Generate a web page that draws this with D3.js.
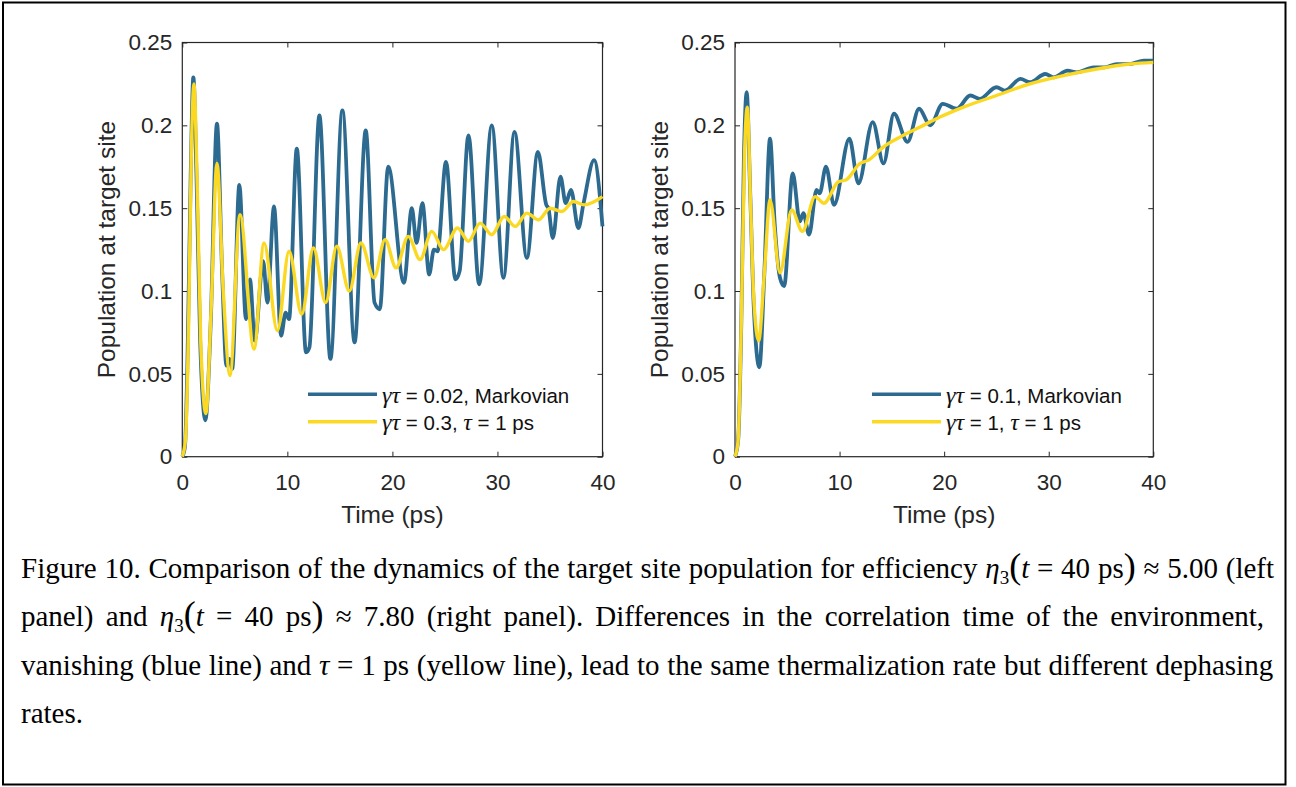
<!DOCTYPE html>
<meta charset="utf-8">
<script src="https://d3js.org/d3.v7.min.js"></script>
<style>
  body { margin: 0; background: #fff; }
</style>
<div id="chart"></div>
<script>

// ---- values ----
var timeTicks = [0, 10, 20, 30, 40];
var popTicks = [0, 0.05, 0.1, 0.15, 0.2, 0.25];

// left panel, blue: gamma*tau = 0.02, Markovian
var leftMarkov = [[0,0],[0.25,0.006],[0.5,0.06],[0.8,0.17],[1.05,0.229],[1.35,0.17],[1.7,0.07],[2.2,0.022],
  [2.7,0.08],[3.3,0.201],[3.8,0.11],[4.2,0.055],[4.5,0.059],[4.75,0.053],[5.43,0.164],[6.06,0.083],
  [6.44,0.107],[6.9,0.070],[7.7,0.118],[8.1,0.093],[8.73,0.151],[9.4,0.073],[9.84,0.087],[10.16,0.083],
  [10.9,0.186],[11.78,0.063],[12.1,0.066],[13.05,0.206],[14.1,0.059],[15.24,0.209],[16.4,0.069],
  [17.46,0.197],[18.3,0.093],[18.8,0.089],[19.6,0.175],[21.1,0.105],[21.85,0.150],[22.3,0.129],
  [22.86,0.153],[23.5,0.110],[23.95,0.125],[24.3,0.124],[25.1,0.178],[26.0,0.107],[26.4,0.112],
  [27.24,0.194],[28.26,0.104],[29.46,0.200],[30.57,0.108],[31.62,0.196],[32.8,0.120],[33.85,0.184],
  [34.65,0.152],[34.85,0.150],[35.27,0.132],[36.0,0.169],[36.5,0.153],[37.0,0.161],[37.7,0.138],
  [38.2,0.153],[39.2,0.179],[40,0.139]];

// left panel, yellow: gamma*tau = 0.3, tau = 1 ps
var leftCorrelated = [[0,0],[0.3,0.01],[0.6,0.08],[0.85,0.18],[1.11,0.225],[1.4,0.17],[1.75,0.07],
  [2.25,0.026],[2.75,0.09],[3.3,0.177],[3.9,0.10],[4.54,0.049],[5.49,0.146],[6.83,0.065],[7.78,0.129],
  [9.05,0.076],[10.16,0.124],[11.37,0.086],[12.48,0.126],[13.65,0.093],[14.7,0.127],[15.9,0.100],
  [17.0,0.129],[18.25,0.108],[19.3,0.131],[20.35,0.114],[21.5,0.133],[22.64,0.119],[23.75,0.136],
  [24.86,0.125],[26.2,0.138],[27.24,0.130],[28.35,0.141],[29.46,0.134],[30.64,0.145],[31.7,0.139],
  [32.8,0.147],[33.9,0.143],[35.02,0.150],[36.13,0.148],[37.24,0.154],[38.26,0.152],[40,0.157]];

// right panel, blue: gamma*tau = 0.1, Markovian
var rightMarkov = [[0,0],[0.3,0.01],[0.6,0.08],[0.85,0.18],[1.12,0.220],[1.45,0.16],[1.8,0.09],
  [2.33,0.054],[2.8,0.11],[3.35,0.192],[3.8,0.14],[4.3,0.108],[4.7,0.103],[5.52,0.171],[6.2,0.142],
  [6.54,0.147],[7.08,0.134],[7.8,0.161],[8.1,0.159],[8.7,0.175],[9.47,0.152],[10.94,0.192],
  [11.8,0.165],[13.17,0.202],[14.2,0.177],[15.2,0.207],[16.5,0.190],[17.6,0.210],[18.66,0.200],
  [19.87,0.213],[21.2,0.210],[22.5,0.218],[23.4,0.216],[25.0,0.223],[25.8,0.221],[27.3,0.228],
  [28.2,0.226],[29.67,0.231],[30.46,0.229],[31.8,0.233],[32.7,0.232],[34.3,0.235],[35.3,0.235],
  [36.5,0.237],[37.7,0.237],[39.1,0.239],[40,0.239]];

// right panel, yellow: gamma*tau = 1, tau = 1 ps
var rightCorrelated = [[0,0],[0.3,0.01],[0.6,0.08],[0.9,0.18],[1.18,0.211],[1.5,0.15],[1.8,0.095],
  [2.26,0.070],[2.8,0.11],[3.35,0.155],[4.3,0.111],[5.42,0.149],[6.44,0.136],[7.66,0.157],[8.5,0.153],
  [9.9,0.166],[10.6,0.167],[11.96,0.177],[12.76,0.179],[14.2,0.187],[15.8,0.193],[17.7,0.199],
  [19.6,0.205],[21.85,0.211],[25.0,0.218],[28.2,0.225],[31.4,0.230],[34.6,0.234],[37.8,0.237],[40,0.238]];

// legend entries: [text, italic greek?]
var leftLegend = [
  [["γτ", 1], [" = 0.02, Markovian", 0]],
  [["γτ", 1], [" = 0.3, ", 0], ["τ", 1], [" = 1 ps", 0]]
];
var rightLegend = [
  [["γτ", 1], [" = 0.1, Markovian", 0]],
  [["γτ", 1], [" = 1, ", 0], ["τ", 1], [" = 1 ps", 0]]
];

// caption, one array per printed line: [style, text]
var captionLines = [
  [["r", "Figure 10. Comparison of the dynamics of the target site population for efficiency "], ["i", "η"], ["sub", "3"],
   ["big", "("], ["i", "t"], ["r", " = 40 ps"], ["big", ")"], ["r", " ≈ 5.00 (left"]],
  [["r", "panel) and  "], ["i", "η"], ["sub", "3"], ["big", "("], ["i", "t"], ["r", " = 40 ps"], ["big", ")"],
   ["r", " ≈ 7.80  (right panel). Differences in the correlation time of the environment,"]],
  [["r", "vanishing (blue line) and  "], ["i", "τ"], ["r", " = 1 ps  (yellow line), lead to the same thermalization rate but different dephasing"]],
  [["r", "rates."]]
];

var blue = "#2d6a90", yellow = "#fbd923", ink = "#262626";

var W = 1296, H = 787;
var svg = d3.select("#chart").append("svg")
  .attr("width", W).attr("height", H)
  .style("font-family", "'Liberation Sans', Arial, sans-serif");

// outer frame
svg.append("rect")
  .attr("x", 3).attr("y", 2.5).attr("width", 1282.5).attr("height", 782)
  .attr("fill", "none").attr("stroke", "#000").attr("stroke-width", 2);

var yTop = 42.5, yBottom = 456.7;
var panels = [
  {x0: 182.3, x1: 602.5, blue: leftMarkov, yellow: leftCorrelated, legend: leftLegend, lx: 308},
  {x0: 735, x1: 1153.3, blue: rightMarkov, yellow: rightCorrelated, legend: rightLegend, lx: 872}
];

panels.forEach(function(p) {
  var x = d3.scaleLinear().domain([0, 40]).range([p.x0, p.x1]);
  var y = d3.scaleLinear().domain([0, 0.25]).range([yBottom, yTop]);
  var g = svg.append("g");

  // axes, ticks pointing inward on all four sides
  g.append("g").attr("transform", "translate(0," + yBottom + ")")
    .call(d3.axisBottom(x).tickValues(timeTicks).tickSizeInner(-5).tickSizeOuter(0).tickPadding(17.5).tickFormat(function(d) { return d; }));
  g.append("g").attr("transform", "translate(" + p.x0 + ",0)")
    .call(d3.axisLeft(y).tickValues(popTicks).tickSizeInner(-5).tickSizeOuter(0).tickPadding(10).tickFormat(function(d) { return d; }));
  g.append("g").attr("transform", "translate(0," + yTop + ")")
    .call(d3.axisTop(x).tickValues(timeTicks).tickSizeInner(-5).tickSizeOuter(0).tickFormat(""));
  g.append("g").attr("transform", "translate(" + p.x1 + ",0)")
    .call(d3.axisRight(y).tickValues(popTicks).tickSizeInner(-5).tickSizeOuter(0).tickFormat(""));
  g.selectAll(".domain").remove();
  g.selectAll(".tick line").attr("stroke", ink);
  g.selectAll(".tick text").attr("fill", ink).style("font-size", "22.5px").style("font-family", "'Liberation Sans', Arial, sans-serif");

  g.append("rect")
    .attr("x", p.x0).attr("y", yTop).attr("width", p.x1 - p.x0).attr("height", yBottom - yTop)
    .attr("fill", "none").attr("stroke", ink).attr("stroke-width", 1.2);

  // axis labels
  g.append("text")
    .attr("x", (p.x0 + p.x1) / 2).attr("y", 522.5)
    .attr("text-anchor", "middle").attr("fill", ink).style("font-size", "24.5px")
    .text("Time (ps)");
  g.append("text")
    .attr("transform", "translate(" + (p.x0 - 67) + "," + ((yTop + yBottom) / 2) + ") rotate(-90)")
    .attr("text-anchor", "middle").attr("fill", ink).style("font-size", "24.5px")
    .text("Population at target site");

  // curves
  var line = d3.line()
    .x(function(d) { return x(d[0]); })
    .y(function(d) { return y(d[1]); })
    .curve(d3.curveMonotoneX);
  g.append("path").datum(p.blue).attr("d", line)
    .attr("fill", "none").attr("stroke", blue).attr("stroke-width", 3.8).attr("stroke-linejoin", "round");
  g.append("path").datum(p.yellow).attr("d", line)
    .attr("fill", "none").attr("stroke", yellow).attr("stroke-width", 3.4).attr("stroke-linejoin", "round");

  // legend
  var colors = [blue, yellow];
  p.legend.forEach(function(entry, i) {
    var ly = 394.3 + i * 27.4;
    g.append("line").attr("x1", p.lx).attr("x2", p.lx + 69).attr("y1", ly).attr("y2", ly)
      .attr("stroke", colors[i]).attr("stroke-width", 3.4);
    var t = g.append("text").attr("x", p.lx + 74).attr("y", ly + 8.5).attr("fill", "#111");
    entry.forEach(function(s) {
      var ts = t.append("tspan").text(s[0]);
      if (s[1]) ts.style("font-family", "'Liberation Serif', 'Times New Roman', serif").style("font-style", "italic").style("font-size", "24px");
      else ts.style("font-size", "20.5px");
    });
  });
});

// caption, justified like the printed page
var cap = svg.append("g")
  .style("font-family", "'Liberation Serif', 'Times New Roman', serif")
  .style("font-size", "29px").attr("fill", "#000");
var capX = 21, capRight = 1274;
captionLines.forEach(function(segs, li) {
  var t = cap.append("text").attr("x", capX).attr("y", 578 + li * 48.3);
  var shift = 0;
  segs.forEach(function(s) {
    var ts = t.append("tspan").text(s[1]);
    var want = 0;
    if (s[0] === "i") ts.style("font-style", "italic");
    if (s[0] === "sub") { ts.style("font-size", "19px"); want = 6; }
    if (s[0] === "big") ts.style("font-size", "36px").style("font-weight", "300");
    if (want !== shift) { ts.attr("dy", want - shift); shift = want; }
  });
  if (li < captionLines.length - 1) {
    var natural = t.node().getComputedTextLength();
    var spaces = t.text().split(" ").length - 1;
    var ws = ((capRight - capX) - natural) / spaces;
    if (ws >= 0) t.attr("word-spacing", ws);
    else t.attr("textLength", capRight - capX).attr("lengthAdjust", "spacingAndGlyphs");
  }
});

</script>
